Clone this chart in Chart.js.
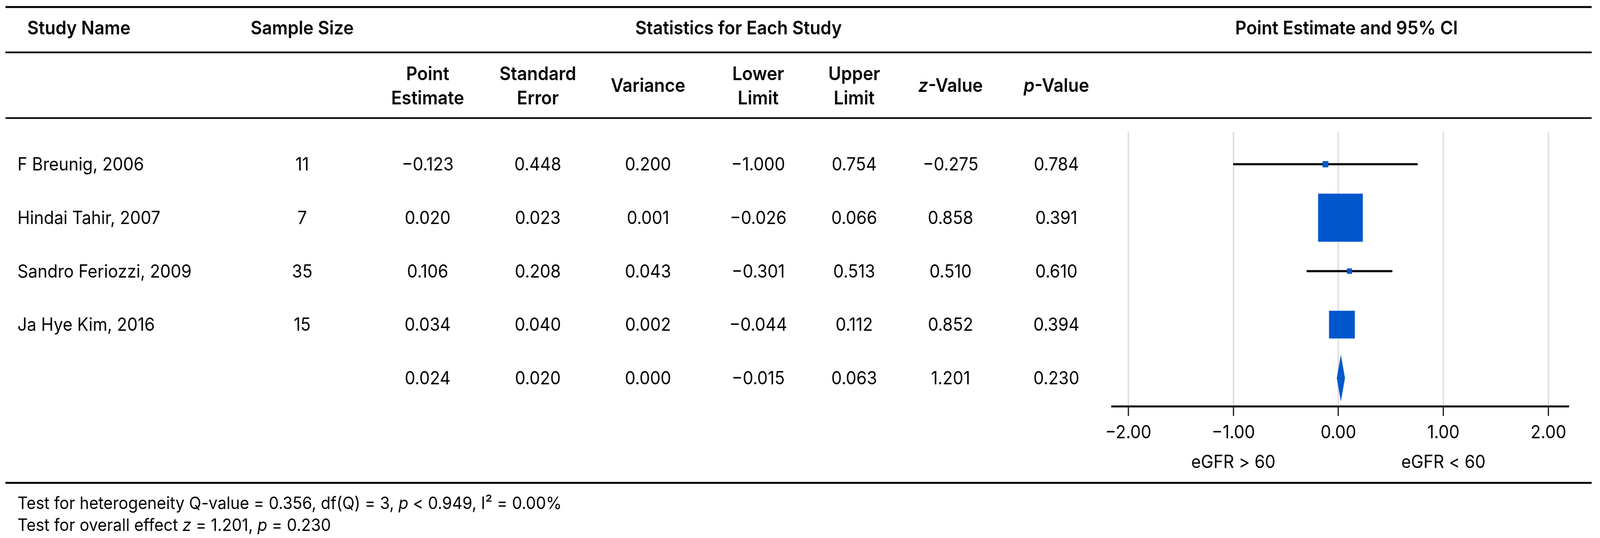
<!DOCTYPE html>
<html>
<head>
<meta charset="utf-8">
<script src="https://cdn.jsdelivr.net/npm/chart.js@4.4.1/dist/chart.umd.min.js"></script>
<style>
  html, body { margin: 0; padding: 0; background: #fff; overflow: hidden; }
  #wrap { position: fixed; left: 0; top: 0; width: 100vw; height: 100vh; overflow: hidden; }
  canvas { display: block; transform-origin: 0 0; }
</style>
</head>
<body>
<div id="wrap"><canvas id="forest" width="4400" height="1376"></canvas></div>
<script>
// rows: 4 studies + pooled row (last)
var studyNames = ['F Breunig, 2006', 'Hindai Tahir, 2007', 'Sandro Feriozzi, 2009', 'Ja Hye Kim, 2016', ''];
var sampleSizes = ['11', '7', '35', '15', ''];
var pointEst = [-0.123, 0.020, 0.106, 0.034, 0.024];
var stdErr = [0.448, 0.023, 0.208, 0.040, 0.020];
var variance = [0.200, 0.001, 0.043, 0.002, 0.000];
var lowerLim = [-1.000, -0.026, -0.301, -0.044, -0.015];
var upperLim = [0.754, 0.066, 0.513, 0.112, 0.063];
var zValue = [-0.275, 0.858, 0.510, 0.852, 1.201];
var pValue = [0.784, 0.391, 0.610, 0.394, 0.230];
var xTicks = [-2, -1, 0, 1, 2];
var axisLabels = ['eGFR > 60', 'eGFR < 60'];
var axisLabelAt = [-1, 1];

// box side in px (study weight), style only
var boxSide = [16, 123, 14, 71];

var BLUE = '#0057cc';
var FONT = 'Inter, "Noto Sans", sans-serif';
var HEAD = '600 48px ' + FONT;
var BODY = '46px ' + FONT;

function fmt(v) {
    return (v < 0 ? '\u2212' : '') + Math.abs(v).toFixed(3);
}

// draws text made of runs [text, italic]
function drawRuns(ctx, runs, x, y, align, weight) {
    var w = 0;
    runs.forEach(function(r) {
        ctx.font = (r[1] ? 'italic ' : '') + weight + ' ' + FONT;
        w += ctx.measureText(r[0]).width;
    });
    var cx = align === 'center' ? x - w / 2 : x;
    ctx.textAlign = 'left';
    runs.forEach(function(r) {
        ctx.font = (r[1] ? 'italic ' : '') + weight + ' ' + FONT;
        ctx.fillText(r[0], cx, y);
        cx += ctx.measureText(r[0]).width;
    });
}

var colX = [1176, 1479, 1782, 2085, 2349, 2614, 2905];
var colVals = [pointEst, stdErr, variance, lowerLim, upperLim, zValue, pValue];

var tablePlugin = {
    id: 'table',
    afterDraw: function(chart) {
        var ctx = chart.ctx;
        var ys = chart.scales.y;
        var xs = chart.scales.x;
        ctx.save();
        ctx.fillStyle = '#000';
        ctx.strokeStyle = '#000';

        // rules
        [[18, 5], [134, 4.5], [302, 4], [1235, 5]].forEach(function(l) {
            ctx.lineWidth = l[1];
            ctx.beginPath();
            ctx.moveTo(15, l[0]);
            ctx.lineTo(4377, l[0]);
            ctx.stroke();
        });

        // header row 1
        ctx.textBaseline = 'alphabetic';
        ctx.font = HEAD;
        ctx.textAlign = 'center';
        ctx.fillText('Study Name', 217, 88);
        ctx.fillText('Sample Size', 831, 88);
        ctx.fillText('Statistics for Each Study', 2031, 88);
        ctx.fillText('Point Estimate and 95% CI', 3703, 88);

        // header row 2
        var h2 = [['Point', 'Estimate'], ['Standard', 'Error'], ['Variance'], ['Lower', 'Limit'], ['Upper', 'Limit']];
        h2.forEach(function(h, i) {
            if (h.length === 2) {
                ctx.fillText(h[0], colX[i], 205);
                ctx.fillText(h[1], colX[i], 267);
            } else {
                ctx.fillText(h[0], colX[i], 235);
            }
        });
        drawRuns(ctx, [['z', true], ['-Value', false]], colX[5], 235, 'center', '600 48px');
        drawRuns(ctx, [['p', true], ['-Value', false]], colX[6], 235, 'center', '600 48px');

        // body rows
        ctx.font = BODY;
        for (var i = 0; i < studyNames.length; i++) {
            var y = ys.getPixelForValue(i) + 16;
            ctx.textAlign = 'left';
            ctx.fillText(studyNames[i], 48, y);
            ctx.textAlign = 'center';
            ctx.fillText(sampleSizes[i], 831, y);
            colVals.forEach(function(arr, c) {
                ctx.fillText(fmt(arr[i]), colX[c], y);
            });
        }

        // axis side labels
        ctx.font = BODY;
        ctx.textAlign = 'center';
        axisLabels.forEach(function(t, k) {
            ctx.fillText(t, xs.getPixelForValue(axisLabelAt[k]), 1197);
        });

        // footer
        drawRuns(ctx, [['Test for heterogeneity Q-value = 0.356, df(Q) = 3, ', false], ['p', true], [' < 0.949, I\u00b2 = 0.00%', false]], 48, 1302, 'left', '44px');
        drawRuns(ctx, [['Test for overall effect ', false], ['z', true], [' = 1.201, ', false], ['p', true], [' = 0.230', false]], 48, 1358, 'left', '44px');
        ctx.restore();
    }
};

// pooled diamond
var diamondPlugin = {
    id: 'diamond',
    afterDatasetsDraw: function(chart) {
        var ctx = chart.ctx;
        var xs = chart.scales.x, ys = chart.scales.y;
        var k = pointEst.length - 1;
        var yc = ys.getPixelForValue(k);
        ctx.save();
        ctx.fillStyle = BLUE;
        ctx.beginPath();
        ctx.moveTo(xs.getPixelForValue(lowerLim[k]), yc);
        ctx.lineTo(xs.getPixelForValue(pointEst[k]), yc - 60);
        ctx.lineTo(xs.getPixelForValue(upperLim[k]), yc);
        ctx.lineTo(xs.getPixelForValue(pointEst[k]), yc + 60);
        ctx.closePath();
        ctx.fill();
        ctx.restore();
    }
};

var nStudies = 4;
var ciData = [], boxData = [];
for (var i = 0; i < nStudies; i++) {
    ciData.push({ x: [lowerLim[i], upperLim[i]], y: i });
    boxData.push({ x: pointEst[i], y: i });
}

var canvas = document.getElementById('forest');
var ctx = canvas.getContext('2d');
var forest = new Chart(ctx, {
    data: {
        datasets: [{
            type: 'scatter',
            data: boxData,
            pointStyle: 'rect',
            pointRadius: boxSide.map(function(s) { return s / 2 / Math.SQRT1_2; }),
            backgroundColor: BLUE,
            borderWidth: 0,
            order: 0
        }, {
            type: 'bar',
            indexAxis: 'y',
            data: ciData,
            backgroundColor: '#000',
            borderWidth: 0,
            barThickness: 5,
            order: 1
        }]
    },
    options: {
        responsive: false,
        devicePixelRatio: 1,
        animation: false,
        events: [],
        layout: { padding: { left: 3058, right: 54, top: 337, bottom: 207 } },
        plugins: { legend: { display: false }, tooltip: { enabled: false } },
        scales: {
            x: {
                type: 'linear',
                min: -2.155,
                max: 2.19,
                offset: false,
                afterBuildTicks: function(scale) {
                    scale.ticks = xTicks.map(function(v) { return { value: v }; });
                },
                afterFit: function(scale) { scale.height = 130; },
                grid: {
                    offset: false,
                    color: '#dedede',
                    lineWidth: 4,
                    drawTicks: true,
                    tickLength: 25,
                    tickColor: '#000',
                    tickWidth: 3
                },
                border: { display: true, color: '#000', width: 5 },
                ticks: {
                    padding: 16,
                    color: '#000',
                    font: { family: 'Inter', size: 46 },
                    callback: function(v) {
                        return (v < 0 ? '\u2212' : '') + Math.abs(v).toFixed(2);
                    }
                }
            },
            y: {
                type: 'linear',
                display: false,
                offset: false,
                grid: { offset: false },
                reverse: true,
                min: -0.607,
                max: 4.526
            }
        }
    },
    plugins: [diamondPlugin, tablePlugin]
});

// fit the 4400x1376 drawing to the actual viewport
var sx = window.innerWidth / 4400, sy = window.innerHeight / 1376;
canvas.style.transform = 'scale(' + sx + ',' + sy + ')';
</script>
</body>
</html>
